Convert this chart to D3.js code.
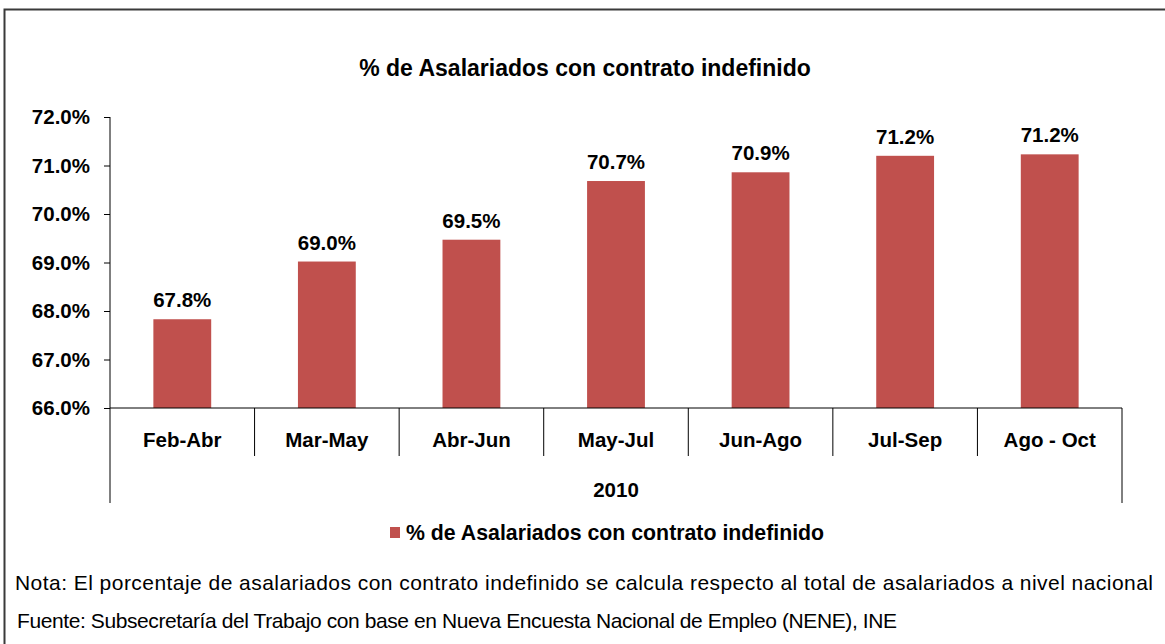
<!DOCTYPE html>
<html>
<head>
<meta charset="utf-8">
<script src="https://cdn.jsdelivr.net/npm/d3@7"></script>
<style>
  body { margin: 0; background: #fff; }
  svg { display: block; font-family: "Liberation Sans", Arial, sans-serif; }
</style>
</head>
<body>
<svg id="chart"></svg>
<script>
const categories = ["Feb-Abr", "Mar-May", "Abr-Jun", "May-Jul", "Jun-Ago", "Jul-Sep", "Ago - Oct"];
const values = [67.83, 69.02, 69.47, 70.68, 70.86, 71.20, 71.23];
const yTicks = [66, 67, 68, 69, 70, 71, 72];
const groupLabel = "2010";
const seriesName = "% de Asalariados con contrato indefinido";
const titleText = "% de Asalariados con contrato indefinido";
const notaText = "Nota: El porcentaje de asalariados con contrato indefinido se calcula respecto al total de asalariados a nivel nacional";
const fuenteText = "Fuente: Subsecretaría del Trabajo con base en Nueva Encuesta Nacional de Empleo (NENE), INE";

const width = 1165, height = 644;
const barColor = "#C0504D";

const svg = d3.select("#chart")
    .attr("width", width)
    .attr("height", height);

// outer chart border (runs off the right and bottom)
svg.append("rect")
    .attr("x", 4.5).attr("y", 9.5)
    .attr("width", 1300).attr("height", 800)
    .attr("fill", "none")
    .attr("stroke", "#3a3a3a")
    .attr("stroke-width", 2);

const plotLeft = 110, plotRight = 1122, plotTop = 117, plotBottom = 408;

const x = d3.scaleBand()
    .domain(categories)
    .range([plotLeft, plotRight])
    .paddingInner(0.6)
    .paddingOuter(0.3);

const xb = d3.scaleBand()
    .domain(categories)
    .range([plotLeft, plotRight]);

const y = d3.scaleLinear()
    .domain([66, 72])
    .range([plotBottom, plotTop]);

// title
svg.append("text")
    .attr("x", 585).attr("y", 76)
    .attr("text-anchor", "middle")
    .attr("font-size", 23).attr("font-weight", "bold")
    .text(titleText);

// bars
svg.selectAll(".bar")
    .data(values)
    .enter()
    .append("rect")
    .attr("class", "bar")
    .attr("x", (d, i) => x(categories[i]))
    .attr("y", d => y(d))
    .attr("width", x.bandwidth())
    .attr("height", d => y(66) - y(d))
    .attr("fill", barColor);

// value labels
svg.selectAll(".vlabel")
    .data(values)
    .enter()
    .append("text")
    .attr("x", (d, i) => x(categories[i]) + x.bandwidth() / 2)
    .attr("y", d => y(d) - 12)
    .attr("text-anchor", "middle")
    .attr("font-size", 20.5).attr("font-weight", "bold")
    .text(d => d.toFixed(1) + "%");

// y axis
const yAxis = d3.axisLeft(y)
    .tickValues(yTicks)
    .tickSize(6)
    .tickPadding(14)
    .tickFormat(d => d.toFixed(1) + "%");

const yg = svg.append("g")
    .attr("transform", `translate(${plotLeft},0)`)
    .call(yAxis);
yg.select(".domain").remove();
yg.selectAll("line").attr("stroke", "#000");
yg.selectAll("text")
    .attr("font-size", 20.5).attr("font-weight", "bold")
    .attr("font-family", "Liberation Sans, Arial, sans-serif")
    .attr("fill", "#000");

// axis lines
svg.append("line")
    .attr("x1", plotLeft).attr("x2", plotLeft)
    .attr("y1", plotTop).attr("y2", 503)
    .attr("stroke", "#000");
svg.append("line")
    .attr("x1", plotLeft).attr("x2", plotRight)
    .attr("y1", plotBottom).attr("y2", plotBottom)
    .attr("stroke", "#000");
svg.append("line")
    .attr("x1", plotRight).attr("x2", plotRight)
    .attr("y1", plotBottom).attr("y2", 503)
    .attr("stroke", "#000");

// separators between categories
svg.selectAll(".sep")
    .data(categories.slice(1))
    .enter()
    .append("line")
    .attr("x1", d => xb(d)).attr("x2", d => xb(d))
    .attr("y1", plotBottom).attr("y2", 456)
    .attr("stroke", "#000");

// category labels
svg.selectAll(".clabel")
    .data(categories)
    .enter()
    .append("text")
    .attr("x", d => xb(d) + xb.bandwidth() / 2)
    .attr("y", 447)
    .attr("text-anchor", "middle")
    .attr("font-size", 20.5).attr("font-weight", "bold")
    .text(d => d);

svg.append("text")
    .attr("x", (plotLeft + plotRight) / 2).attr("y", 497)
    .attr("text-anchor", "middle")
    .attr("font-size", 20.5).attr("font-weight", "bold")
    .text(groupLabel);

// legend
svg.append("rect")
    .attr("x", 390).attr("y", 527)
    .attr("width", 10).attr("height", 11)
    .attr("fill", barColor);
svg.append("text")
    .attr("x", 406).attr("y", 540)
    .attr("font-size", 21.3).attr("font-weight", "bold")
    .text(seriesName);

// notes
svg.append("text")
    .attr("x", 15).attr("y", 590)
    .attr("font-size", 21)
    .attr("textLength", 1138).attr("lengthAdjust", "spacing")
    .text(notaText);
svg.append("text")
    .attr("x", 17).attr("y", 628)
    .attr("font-size", 21)
    .attr("textLength", 880).attr("lengthAdjust", "spacing")
    .text(fuenteText);
</script>
</body>
</html>
